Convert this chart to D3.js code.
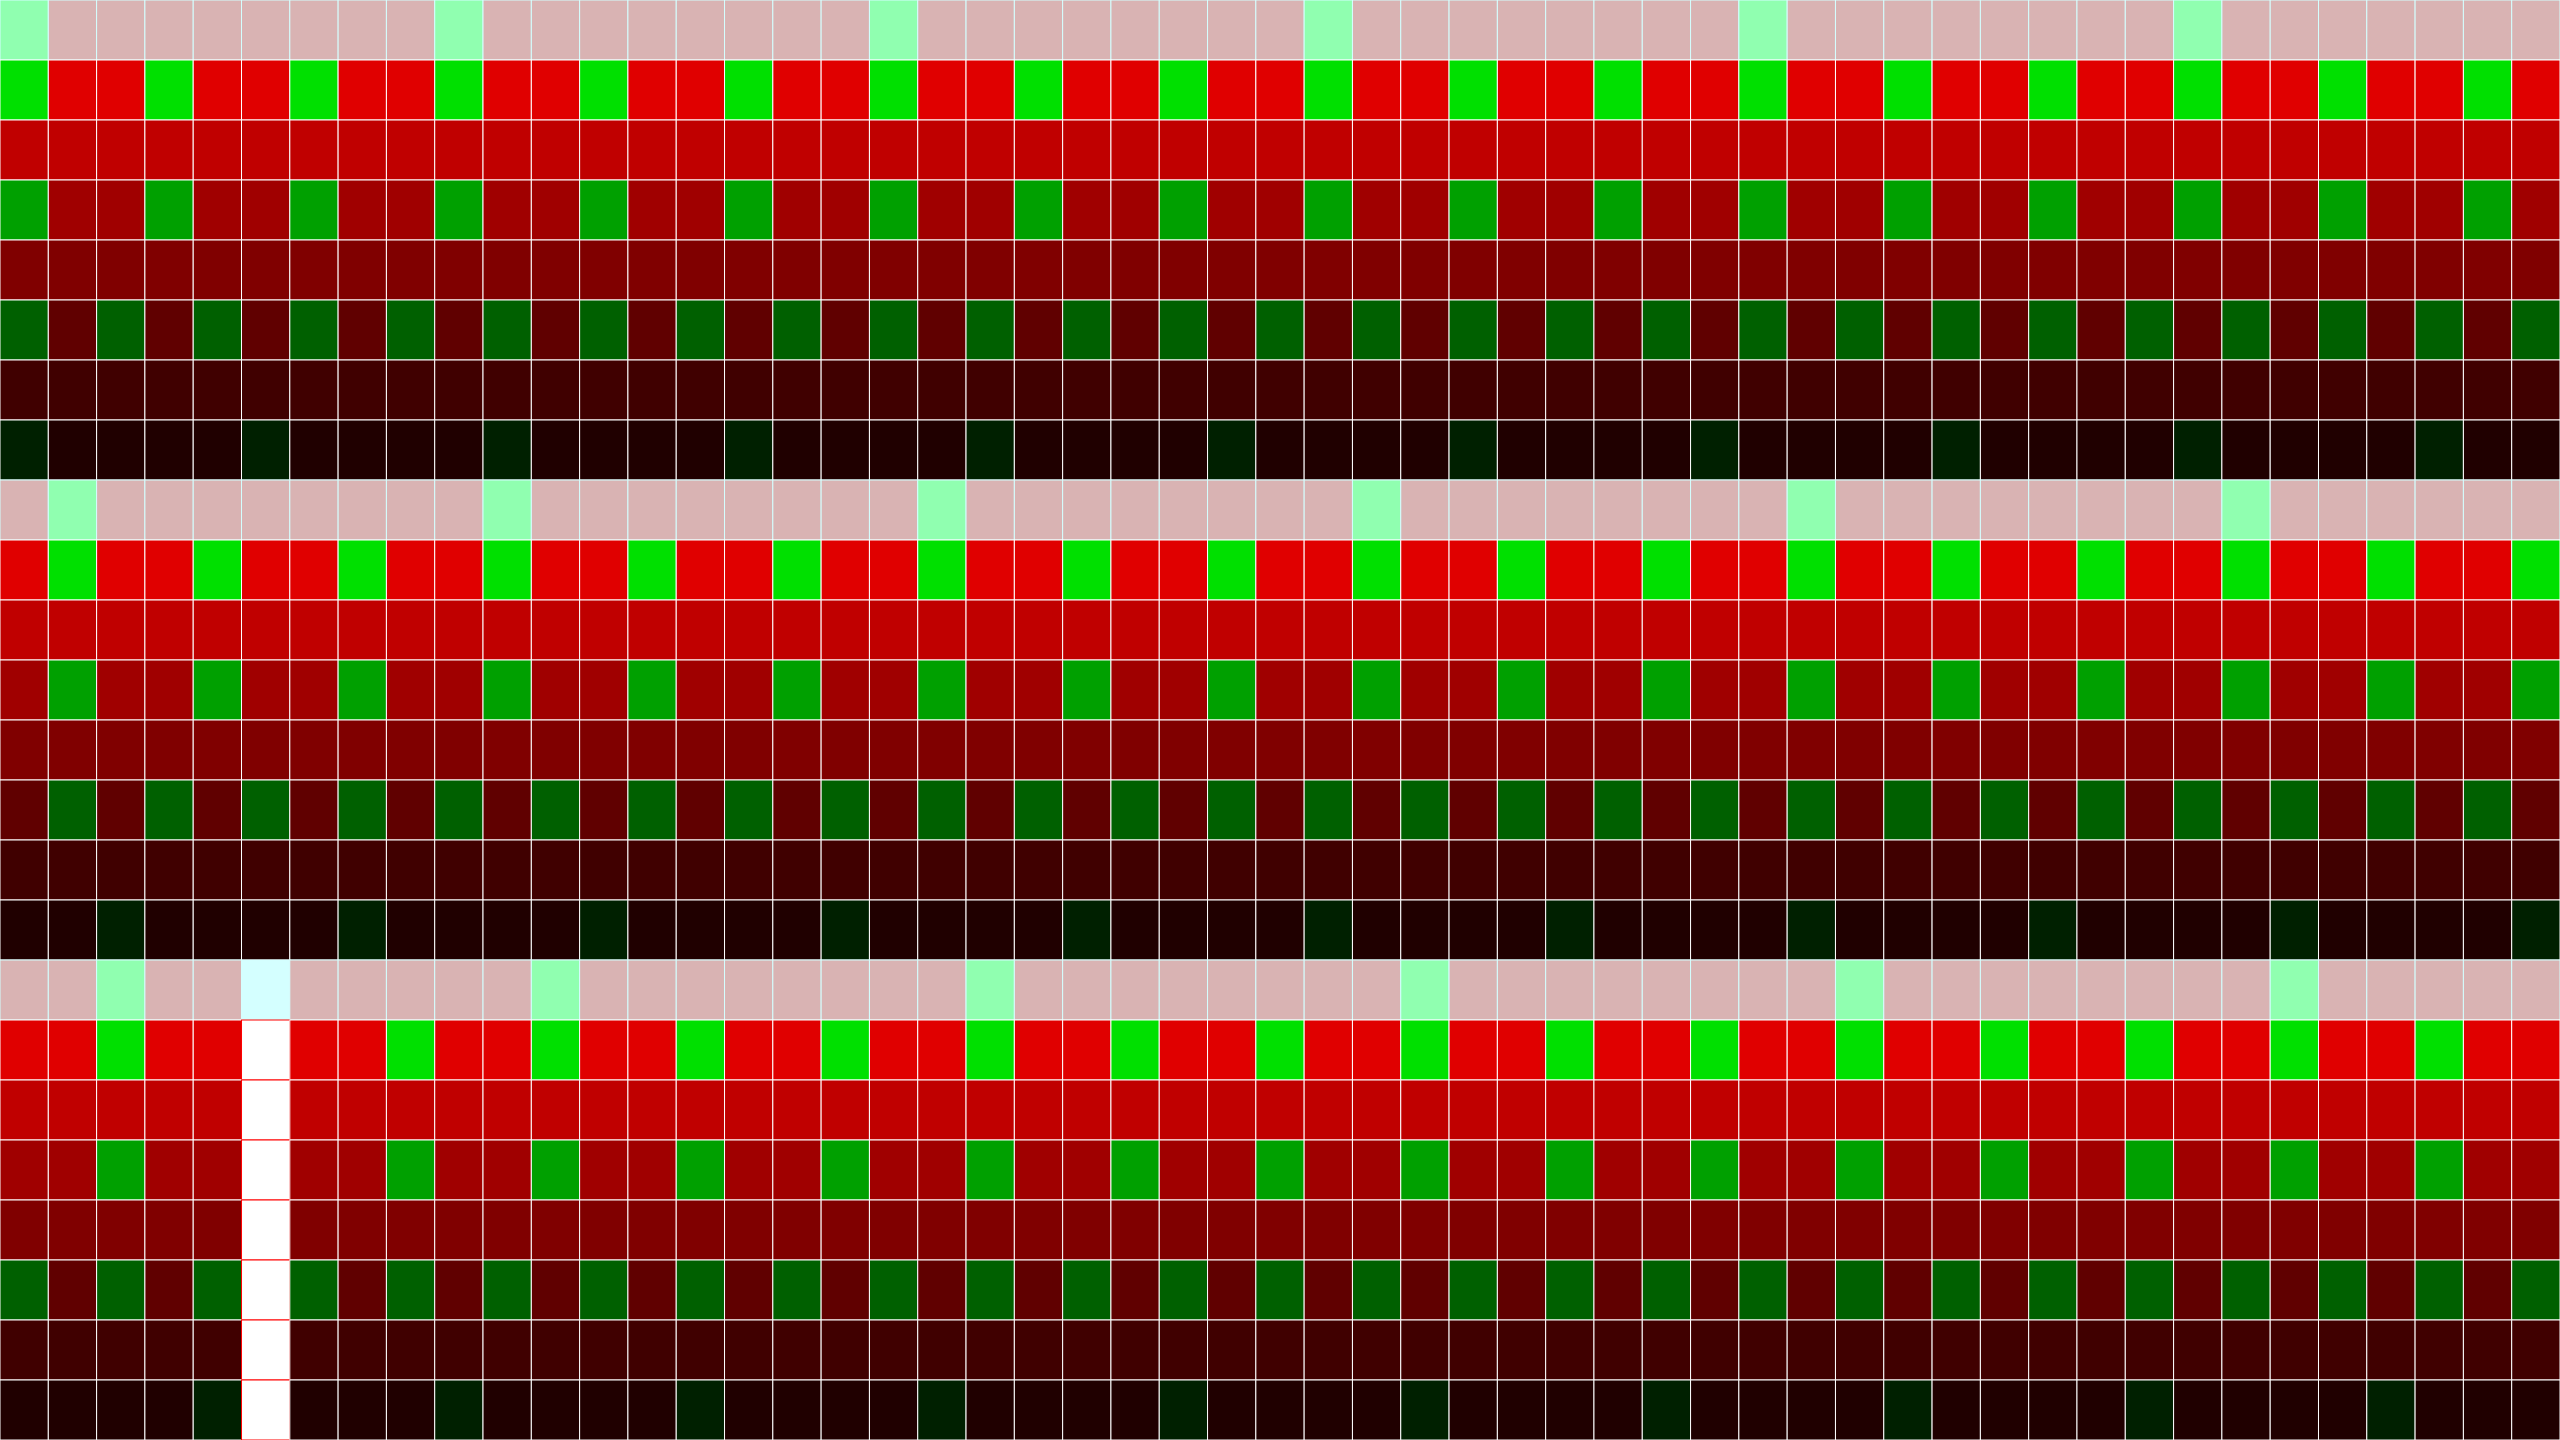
<!DOCTYPE html>
<html>
<head>
<meta charset="utf-8">
<script src="https://cdn.jsdelivr.net/npm/d3@7"></script>
<style>
  html, body { margin: 0; padding: 0; background: #ffffff; overflow: hidden; }
  svg { display: block; }
</style>
</head>
<body>
<svg id="chart" width="2560" height="1440"></svg>
<script>
// ---- DATA ----
// Each row: 53 cells, "1" = green (hit), "0" = red (miss), "-" = missing value.
// Spaces only separate blocks of ten columns for readability.
const rowsBlock1 = [
  "1000000001 0000000010 0000000100 0000001000 0000010000 000",
  "1001001001 0010010010 0100100100 1001001001 0010010010 010",
  "0000000000 0000000000 0000000000 0000000000 0000000000 000",
  "1001001001 0010010010 0100100100 1001001001 0010010010 010",
  "0000000000 0000000000 0000000000 0000000000 0000000000 000",
  "1010101010 1010101010 1010101010 1010101010 1010101010 101",
  "0000000000 0000000000 0000000000 0000000000 0000000000 000",
  "1000010000 1000010000 1000010000 1000010000 1000010000 100"
];
const rowsBlock2 = [
  "0100000000 1000000001 0000000010 0000000100 0000001000 000",
  "0100100100 1001001001 0010010010 0100100100 1001001001 001",
  "0000000000 0000000000 0000000000 0000000000 0000000000 000",
  "0100100100 1001001001 0010010010 0100100100 1001001001 001",
  "0000000000 0000000000 0000000000 0000000000 0000000000 000",
  "0101010101 0101010101 0101010101 0101010101 0101010101 010",
  "0000000000 0000000000 0000000000 0000000000 0000000000 000",
  "0010000100 0010000100 0010000100 0010000100 0010000100 001"
];
const rowsBlock3 = [
  "00100-0000 0100000000 1000000001 0000000010 0000000100 000",
  "00100-0010 0100100100 1001001001 0010010010 0100100100 100",
  "00000-0000 0000000000 0000000000 0000000000 0000000000 000",
  "00100-0010 0100100100 1001001001 0010010010 0100100100 100",
  "00000-0000 0000000000 0000000000 0000000000 0000000000 000",
  "10101-1010 1010101010 1010101010 1010101010 1010101010 101",
  "00000-0000 0000000000 0000000000 0000000000 0000000000 000",
  "00001-0001 0000100001 0000100001 0000100001 0000100001 000"
];

// ---- STYLES ----
const redShades   = ["#d9b3b3", "#e00000", "#c00000", "#a00000", "#800000", "#600000", "#400000", "#200000"];
const greenShades = ["#90ffb0", "#00e000", "#00c000", "#00a000", "#008000", "#006000", "#004000", "#002000"];
const headerStroke = "#d4ffff";
const missingHeaderFill = "#d4ffff";
const cellStroke = "#ffffff";
const missingStroke = "#ff0000";

// ---- BUILD TABLE ----
const allRows = [...rowsBlock1, ...rowsBlock2, ...rowsBlock3].map(s => s.replace(/ /g, ""));
const nCols = allRows[0].length;
const nRows = allRows.length;
const cells = [];
allRows.forEach((s, r) => {
  s.split("").forEach((ch, c) => {
    cells.push({ row: r, col: c, level: r % 8, value: ch === "-" ? null : +ch });
  });
});

const W = 2560, H = 1440;
const x = d3.scaleBand().domain(d3.range(nCols)).range([0, W]).padding(0);
const y = d3.scaleBand().domain(d3.range(nRows)).range([0, H]).padding(0);

const svg = d3.select("#chart");
svg.append("g")
  .selectAll("rect")
  .data(cells)
  .join("rect")
  .attr("x", d => x(d.col))
  .attr("y", d => y(d.row))
  .attr("width", x.bandwidth())
  .attr("height", y.bandwidth())
  .attr("fill", d => {
    if (d.value === null) return d.level === 0 ? missingHeaderFill : "#ffffff";
    return d.value === 1 ? greenShades[d.level] : redShades[d.level];
  })
  .attr("stroke", d => {
    if (d.level === 0) return headerStroke;
    return d.value === null ? missingStroke : cellStroke;
  })
  .attr("stroke-width", 1);
</script>
</body>
</html>
